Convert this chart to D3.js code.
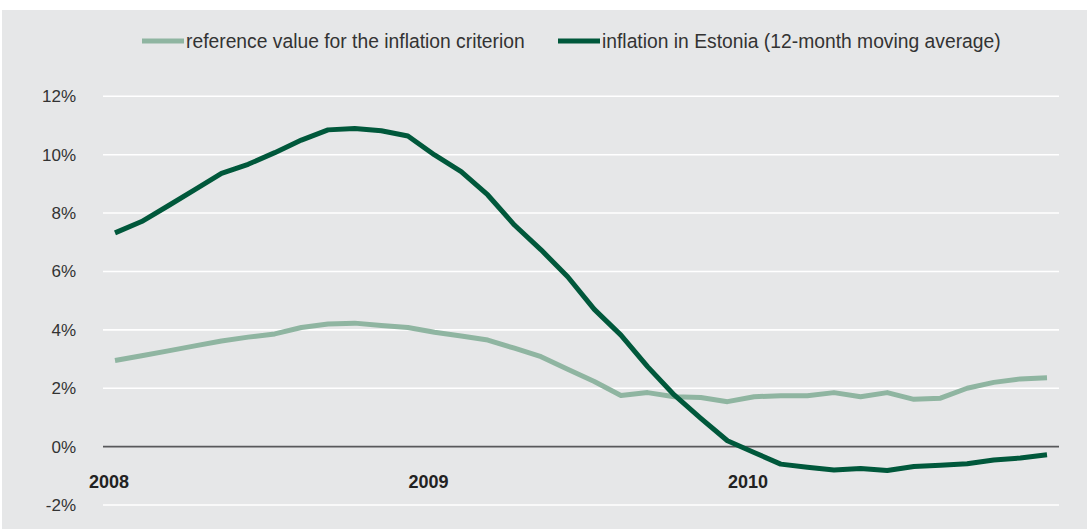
<!DOCTYPE html>
<html>
<head>
<meta charset="utf-8">
<script src="https://cdn.jsdelivr.net/npm/d3@7"></script>
<style>
    body { margin: 0; background: #fff; }
    svg { display: block; font-family: "Liberation Sans", Arial, sans-serif; }
</style>
</head>
<body>
<svg id="chart" width="1087" height="529"></svg>
<script>
// monthly observations, Jan 2008 .. Dec 2010
const months = d3.range(36).map(i => `${2008 + Math.floor(i / 12)}-${String(i % 12 + 1).padStart(2, "0")}`);

const referenceValue = [
    2.95, 3.11, 3.28, 3.45, 3.62, 3.75, 3.86, 4.08, 4.2, 4.23, 4.15, 4.08,
    3.92, 3.79, 3.65, 3.37, 3.08, 2.65, 2.23, 1.75, 1.85, 1.71, 1.68, 1.54,
    1.71, 1.74, 1.74, 1.85, 1.71, 1.85, 1.62, 1.66, 2.0, 2.2, 2.32, 2.36
];

const inflationEstonia = [
    7.32, 7.71, 8.25, 8.8, 9.36, 9.67, 10.07, 10.5, 10.85, 10.9, 10.82, 10.64,
    9.99, 9.42, 8.62, 7.59, 6.74, 5.82, 4.7, 3.82, 2.74, 1.77, 0.97, 0.2,
    -0.2, -0.6, -0.71, -0.8, -0.75, -0.82, -0.68, -0.64, -0.59, -0.46, -0.39, -0.28
];

const yTicks = [-2, 0, 2, 4, 6, 8, 10, 12];
const yearLabels = ["2008", "2009", "2010"];

const series = [
    { name: "reference value for the inflation criterion", values: referenceValue, color: "#8fb5a1" },
    { name: "inflation in Estonia (12-month moving average)", values: inflationEstonia, color: "#00583b" }
];

const svg = d3.select("#chart");

svg.append("rect")
    .attr("x", 2)
    .attr("y", 10)
    .attr("width", 1085)
    .attr("height", 519)
    .attr("fill", "#e6e7e8");

const x = d3.scalePoint()
    .domain(months)
    .range([115, 1047]);

const y = d3.scaleLinear()
    .domain([-2, 12])
    .range([505, 96.3]);

// grid, zero line darker
svg.append("g")
    .selectAll("line")
    .data(yTicks)
    .join("line")
    .attr("x1", 103)
    .attr("x2", 1059)
    .attr("y1", d => y(d))
    .attr("y2", d => y(d))
    .attr("stroke", d => d === 0 ? "#58595b" : "#fff")
    .attr("stroke-width", 1.6);

// y axis labels
const yAxis = svg.append("g")
    .attr("transform", "translate(76,0)")
    .call(d3.axisLeft(y).tickValues(yTicks).tickSize(0).tickPadding(0).tickFormat(d => d + "%"));
yAxis.select(".domain").remove();
yAxis.selectAll("text")
    .attr("font-family", "Liberation Sans, Arial, sans-serif")
    .attr("font-size", 17)
    .attr("fill", "#333");

// year labels
svg.append("g")
    .selectAll("text")
    .data(yearLabels)
    .join("text")
    .attr("x", d => x(d + "-01") - 6)
    .attr("y", 488)
    .attr("text-anchor", "middle")
    .attr("font-size", 18)
    .attr("font-weight", "bold")
    .attr("fill", "#222")
    .text(d => d);

const line = d3.line()
    .x((d, i) => x(months[i]))
    .y(d => y(d));

svg.append("g")
    .selectAll("path")
    .data(series)
    .join("path")
    .attr("d", s => line(s.values))
    .attr("fill", "none")
    .attr("stroke", s => s.color)
    .attr("stroke-width", 5)
    .attr("stroke-linejoin", "round");

// legend
const legendPos = [142, 558];
const item = svg.append("g")
    .selectAll("g")
    .data(series)
    .join("g")
    .attr("transform", (s, i) => `translate(${legendPos[i]},41)`);
item.append("line")
    .attr("x1", 0)
    .attr("x2", 42)
    .attr("stroke", s => s.color)
    .attr("stroke-width", 5);
item.append("text")
    .attr("x", 44)
    .attr("y", 6.5)
    .attr("font-size", 19.3)
    .attr("fill", "#333")
    .text(s => s.name);
</script>
</body>
</html>
